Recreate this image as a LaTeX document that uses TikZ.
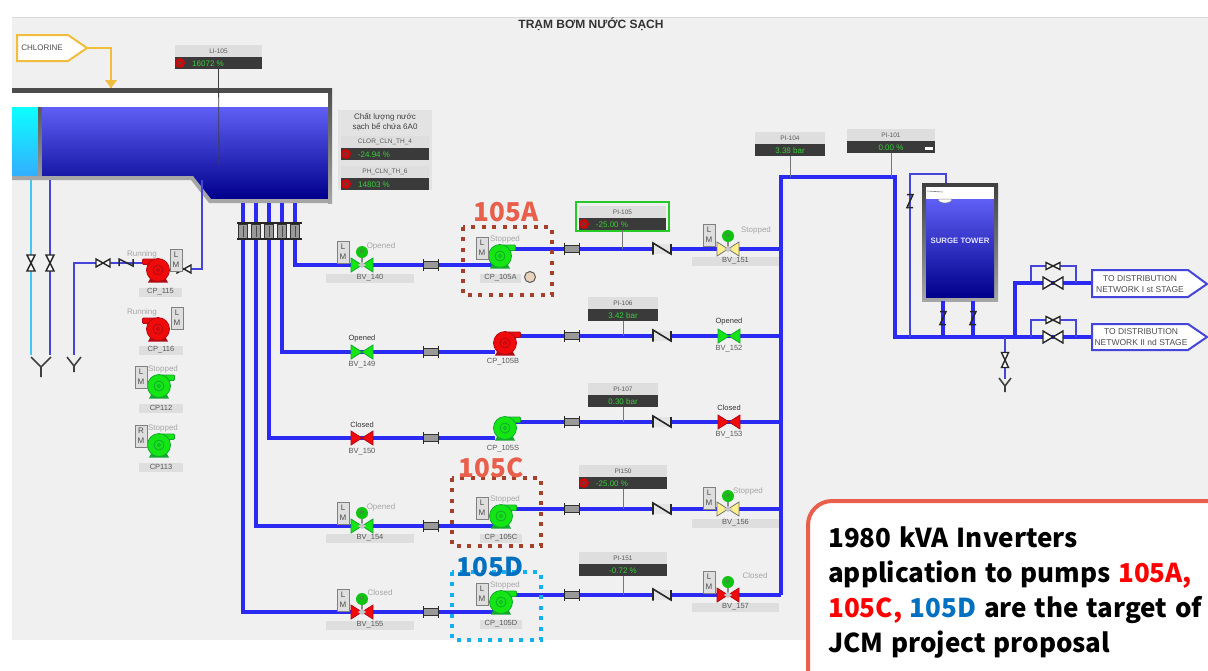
\documentclass[tikz,border=0pt]{standalone}
\usepackage{fontspec}
\setmainfont{Liberation Sans}
\newfontfamily\cjkf[WordSpace=1.3]{Noto Sans CJK JP}
\usetikzlibrary{calc}
\definecolor{bgc}{HTML}{F0F0F0}
\definecolor{pipec}{HTML}{2A2AF2}
\definecolor{thinc}{HTML}{4545DC}
\definecolor{lab}{HTML}{DEDEDE}
\definecolor{dk}{HTML}{3A3A3A}
\definecolor{vtxt}{HTML}{38D038}
\definecolor{gr}{HTML}{14E614}
\definecolor{grd}{HTML}{12A82E}
\definecolor{rd}{HTML}{F00A0A}
\definecolor{rdd}{HTML}{B00A14}
\definecolor{yl}{HTML}{FFF08C}
\definecolor{gold}{HTML}{F2BC3C}
\definecolor{brn}{HTML}{A5402D}
\definecolor{sal}{HTML}{E8604C}
\definecolor{cy}{HTML}{12B0F0}
\definecolor{blu}{HTML}{0070C0}
\definecolor{cyp}{HTML}{45C5F0}
\tikzset{
  pipe/.style={draw=pipec,line width=3.2pt},
  thin pipe/.style={draw=thinc,line width=2pt},
  tip/.style={draw=dk!70,line width=1pt},
  sm/.style={inner sep=0pt,font=\fontsize{7.5}{9}\selectfont,text=black!65},
  smgray/.style={inner sep=0pt,font=\fontsize{8}{9}\selectfont,text=black!35},
  val/.style={inner sep=0pt,font=\fontsize{8}{9}\selectfont,text=vtxt},
  dotbox/.style={line width=4pt,dash pattern=on 4pt off 6.4pt},
  tag/.style={inner sep=0pt,font=\cjkf\bfseries\fontsize{26}{28}\selectfont},
  call/.style={inner sep=0pt,anchor=base west,font=\cjkf\bfseries\fontsize{26}{30}\selectfont},
  dest/.style={draw=thinc,line width=2pt,fill=white},
  dtxt/.style={inner sep=0pt,align=center,font=\fontsize{8.5}{11}\selectfont,text=black!70},
  hollow/.style={draw=black!85,line width=1.4pt,fill=white}
}
% name x y colour dark dir
\newcommand\pump[6]{%
  \begin{scope}[shift={(#2,#3)},xscale=#6]
    \fill[#5] (-8,9) -- (8,9) -- (10,12.5) -- (-10,12.5) -- cycle;
    \filldraw[fill=#4,draw=#5,line width=.8pt,rounded corners=1pt] (2,-11) -- (15.5,-11) -- (15.5,-5.5) -- (9,-5.5) -- cycle;
    \filldraw[fill=#4,draw=#5,line width=.8pt] (0,0) circle (11.5);
    \draw[#5,line width=.8pt] (0,0) circle (5);
    \draw[#5,line width=.6pt] (0,0) circle (1.6);
  \end{scope}%
  \coordinate (#1) at (#2,#3);}
% name x1 y1 letter
\newcommand\lmbox[4]{%
  \filldraw[fill=lab,draw=black!50,line width=.7pt] (#2,#3) rectangle ({#2+12},{#3+22});
  \node[inner sep=0pt,font=\fontsize{8}{9}\selectfont,text=black!70] (#1l) at ({#2+6},{#3+6}) {#4};
  \node[inner sep=0pt,font=\fontsize{8}{9}\selectfont,text=black!70] (#1m) at ({#2+6},{#3+16}) {M};}
% name x1 x2 ycenter text
\newcommand\labbar[5]{%
  \fill[lab] (#2,{#4-4.5}) rectangle (#3,{#4+4.5});
  \node[sm] (#1) at ({(#2+#3)/2},#4) {#5};}
% name x y fill edge
\newcommand\bvalve[5]{%
  \filldraw[fill=#4,draw=#5,line width=.8pt] (#2,#3) -- ({#2-11},{#3-7}) -- ({#2-11},{#3+7}) -- cycle;
  \filldraw[fill=#4,draw=#5,line width=.8pt] (#2,#3) -- ({#2+11},{#3-7}) -- ({#2+11},{#3+7}) -- cycle;
  \coordinate (#1) at (#2,#3);}
% name x y (actuator)
\newcommand\actu[3]{%
  \draw[black!45,line width=1.2pt] (#2,#3) -- (#2,{#3-8});
  \fill[black!22] ({#2-4},#3) -- (#2,{#3-3}) -- ({#2+4},#3) -- (#2,{#3+3}) -- cycle;
  \fill[gr!85!black] (#2,{#3-13}) circle (6);
  \node[inner sep=0pt,font=\fontsize{5}{6}\selectfont,text=black!60] (#1a) at (#2,{#3-13}) {M};}
% name x1 x2 ytop label value red(1/0)
\newcommand\instr[7]{%
  \fill[lab] (#2,#4) rectangle (#3,{#4+11.5});
  \fill[dk] (#2,{#4+12}) rectangle (#3,{#4+24});
  \node[sm,font=\fontsize{6.5}{8}\selectfont] (#1t) at ({(#2+#3)/2},{#4+6}) {#5};
  \ifnum#7=1
    \fill[rd!85!black] ({#2+5},{#4+18}) circle (5);
    \draw[black!70,line width=.7pt] ({#2+3},{#4+16}) -- ({#2+7},{#4+20}) ({#2+3},{#4+20}) -- ({#2+7},{#4+16});
    \node[val] (#1v) at ({#2+33},{#4+18.5}) {#6};
  \else
    \node[val] (#1v) at ({(#2+#3)/2},{#4+18.5}) {#6};
  \fi
  \coordinate (#1b) at ({(#2+#3)/2},{#4+24});}
% name x y : coupling on horizontal pipe
\newcommand\coup[3]{%
  \fill[black!40] ({#2-8},{#3-3}) rectangle ({#2+8},{#3+3});
  \draw[black!80,line width=.9pt] ({#2-8},{#3-3.5}) -- ({#2+8},{#3-3.5}) ({#2-8},{#3+3.5}) -- ({#2+8},{#3+3.5});
  \draw[black!85,line width=1.8pt] ({#2-7.5},{#3-6}) -- ({#2-7.5},{#3+6}) ({#2+7.5},{#3-6}) -- ({#2+7.5},{#3+6});
  \coordinate (#1) at (#2,#3);}
% name x y : check valve on horizontal pipe
\newcommand\chk[3]{%
  \fill[black!10] ({#2-9},{#3-5}) rectangle ({#2+9},{#3+5});
  \draw[black!85,line width=1.6pt] ({#2-9},{#3+5.5}) -- ({#2-9},{#3-6}) -- ({#2+9},{#3+5}) -- ({#2+9},{#3-5});
  \coordinate (#1) at (#2,#3);}
% name x y : vertical check
\newcommand\vchk[3]{%
  \draw[black!85,line width=1.5pt] ({#2-3},{#3-6.5}) -- ({#2+3},{#3-6.5}) -- ({#2-3},{#3+6.5}) -- ({#2+3},{#3+6.5});
  \coordinate (#1) at (#2,#3);}
% name x y hw hh : hollow bow tie
\newcommand\hbow[5]{%
  \filldraw[hollow] (#2,#3) -- ({#2-#4},{#3-#5}) -- ({#2-#4},{#3+#5}) -- cycle;
  \filldraw[hollow] (#2,#3) -- ({#2+#4},{#3-#5}) -- ({#2+#4},{#3+#5}) -- cycle;
  \coordinate (#1) at (#2,#3);}
% name x y hw hh : hollow vertical hourglass
\newcommand\vbow[5]{%
  \filldraw[hollow] (#2,#3) -- ({#2-#4},{#3-#5}) -- ({#2+#4},{#3-#5}) -- cycle;
  \filldraw[hollow] (#2,#3) -- ({#2-#4},{#3+#5}) -- ({#2+#4},{#3+#5}) -- cycle;
  \coordinate (#1) at (#2,#3);}
% name x ytop hw depth stem
\newcommand\yfit[6]{%
  \coordinate (#1) at (#2,#3);
  \draw[black!75,line width=1.6pt] ({#2-#4},#3) -- (#2,{#3+#5}) -- ({#2+#4},#3) (#2,{#3+#5}) -- (#2,{#3+#5+#6});}
\begin{document}
\begin{tikzpicture}[x=1pt,y=-1pt]
\useasboundingbox (0,0) rectangle (1208,670);
\clip (0,0) rectangle (1208,670);
\fill[white] (0,0) rectangle (1208,670);
\fill[bgc] (12,17) rectangle (1208,640);
\draw[black!15,line width=1pt] (12,17) -- (1208,17);
\node[inner sep=0pt,font=\bfseries\fontsize{12}{14}\selectfont,text=black!80] (title) at (591,24) {TRẠM BƠM NƯỚC SẠCH};

% ---------- clean-water tank
\fill[white] (12,93) rectangle (328,107);
\shade[top color=cyan!95!white,bottom color=cyan!60!blue!80!white] (12,107) rectangle (38,176);
\shade[top color=black!65,bottom color=black!40] (38,107) rectangle (42,177);
\shade[top color=pipec!75!white,middle color=pipec!90!black,bottom color=blue!55!black] (42,107) -- (328,107) -- (328,199) -- (210,199) -- (191,176) -- (42,176) -- cycle;
\draw[black!35,line width=4pt] (12,178) -- (192,178) -- (210,201) -- (330,201);
\shade[top color=black!70,bottom color=black!35] (328,88) rectangle (332,203);
\fill[black!70] (12,87.5) rectangle (332,93);
\instr{li}{175}{262}{45}{LI-105}{16072 \%}{1}
\draw[black!75,line width=.8pt] (lib) ++(0,0) -- (219,165);

% chlorine
\filldraw[fill=white,draw=gold,line width=2pt] (17,35) -- (68,35) -- (87,48) -- (68,61) -- (17,61) -- cycle;
\node[inner sep=0pt,font=\fontsize{8}{9}\selectfont,text=black!70] (chl) at (42,48) {CHLORINE};
\coordinate (chlo) at (87,48); \coordinate (chlc) at (111,48); \coordinate (chld) at (111,88);
\draw[draw=gold,line width=2pt] (chlo) -- (chlc) -- (chld);
\fill[gold] (105,80) -- (117,80) -- (111,88) -- cycle;

% quality panel
\fill[black!11] (338,110) rectangle (432,190);
\node[inner sep=0pt,align=center,font=\fontsize{8}{10}\selectfont,text=black!75] (cl) at (385,122) {Chất lượng nước\\sạch bể chứa 6A0};
\instr{clo}{341}{429}{136}{CLOR\_CLN\_TH\_4}{-24.94 \%}{1}
\instr{ph}{341}{429}{166}{PH\_CLN\_TH\_6}{14803 \%}{1}

% ---------- left utility pipes
\coordinate (l1a) at (31,180); \coordinate (l1b) at (31,355);
\coordinate (l2a) at (50,180); \coordinate (l2b) at (50,355);
\draw[draw=cyp,line width=2pt] (l1a) -- (l1b);
\draw[thin pipe] (l2a) -- (l2b);
\vbow{vl1}{31}{263}{4}{8}
\vbow{vl2}{50}{263}{4}{8}
\yfit{y1}{41}{357}{10}{10}{10}
\yfit{y2}{74}{357}{7}{9}{6}
\coordinate (p1) at (74,355); \coordinate (p2) at (74,263); \coordinate (p3) at (145,263);
\draw[thin pipe] (p1) -- (p2) -- (p3);
\coordinate (p4) at (202,180); \coordinate (p5) at (202,269); \coordinate (p6) at (170,269);
\draw[thin pipe] (p4) -- (p5) -- (p6);
\hbow{vl3}{103}{263}{7}{4}
\draw[black!85,line width=1.5pt] (119,266) -- (119,259) -- (133,266) -- (133,259);
\coordinate (chk0) at (126,263);
\hbow{vl4}{184}{269}{7}{4}
\pump{cp115}{158}{270}{rd}{rdd}{-1}
\node[smgray] (run1) at (142,254) {Running};
\lmbox{lm1}{170}{249}{L}
\labbar{l115}{139}{182}{292}{CP\_115}
\pump{cp116}{158}{329}{rd}{rdd}{-1}
\node[smgray] (run2) at (142,312) {Running};
\lmbox{lm2}{171}{307}{L}
\labbar{l116}{139}{183}{350}{CP\_116}
\pump{cp112}{159}{386}{gr}{grd}{1}
\node[smgray] (st1) at (163,369) {Stopped};
\lmbox{lm3}{135}{366}{L}
\labbar{l112}{139}{183}{408}{CP112}
\pump{cp113}{159}{445}{gr}{grd}{1}
\node[smgray] (st2) at (163,428) {Stopped};
\lmbox{lm4}{135}{425}{R}
\labbar{l113}{139}{183}{467}{CP113}

% ---------- main pipes
\foreach \nm/\x/\y/\yy in {a/295/265/249,b/282/352/336,c/269/438/422,d/256/526/509,e/243/612/595}{
  \coordinate (\nm0) at (\x,203);
  \coordinate (\nm1) at (\x,\y);
  \coordinate (\nm2) at (495,\y);
  \coordinate (\nm3) at (505,\yy);
  \coordinate (\nm4) at (781,\yy);
  \draw[pipe] (\nm0) -- (\nm1) -- (\nm2);
  \draw[pipe] (\nm3) -- (\nm4);
}
\coordinate (c0t) at (781,595); \coordinate (c1t) at (781,177); \coordinate (c2t) at (895,177);
\coordinate (c3t) at (895,337); \coordinate (c4t) at (1092,337);
\draw[pipe,line join=miter] (c0t) -- (c1t) -- (c2t) -- (c3t) -- (c4t);

% manifold
\foreach \x in {243,256,269,282,295}{
  \filldraw[fill=black!40,draw=black!80,line width=.8pt] ({\x-4.5},224) rectangle ({\x+4.5},239);
  \draw[black!70,line width=.5pt] (\x,226) -- (\x,237);
}
\draw[black!85,line width=1.5pt] (237,223) -- (302,223) (237,239) -- (302,239);

% inlet couplings, outlet couplings, check valves
\foreach \y/\n in {265/a,352/b,438/c,526/d,612/e}{\coup{ci\n}{431}{\y}}
\foreach \y/\n in {249/a,336/b,422/c,509/d,595/e}{
  \coup{co\n}{572}{\y}
  \chk{ch\n}{662}{\y}
}

% inlet valves
\bvalve{bv140}{362}{265}{gr}{grd}
\actu{bv140}{362}{265}
\lmbox{lm140}{337}{241}{L}
\node[smgray] (s140) at (381,246) {Opened};
\labbar{l140}{326}{414}{278}{BV\_140}
\bvalve{bv149}{362}{352}{gr}{grd}
\node[sm,text=black!80] (s149) at (362,339) {Opened};
\node[sm] (l149) at (362,365) {BV\_149};
\bvalve{bv150}{362}{438}{rd}{rdd}
\node[sm,text=black!80] (s150) at (362,425) {Closed};
\node[sm] (l150) at (362,452) {BV\_150};
\bvalve{bv154}{362}{526}{gr}{grd}
\actu{bv154}{362}{526}
\lmbox{lm154}{337}{502}{L}
\node[smgray] (s154) at (381,507) {Opened};
\labbar{l154}{326}{414}{538}{BV\_154}
\bvalve{bv155}{362}{612}{rd}{rdd}
\actu{bv155}{362}{612}
\lmbox{lm155}{337}{589}{L}
\node[smgray] (s155) at (380,593) {Closed};
\labbar{l155}{326}{414}{625}{BV\_155}

% outlet valves
\bvalve{bv151}{728}{249}{yl}{black!55}
\actu{bv151}{728}{249}
\lmbox{lm151}{703}{224}{L}
\node[smgray] (s151) at (756,230) {Stopped};
\labbar{l151}{692}{779}{261}{BV\_151}
\bvalve{bv152}{729}{336}{gr}{grd}
\node[sm,text=black!80] (s152) at (729,322) {Opened};
\node[sm] (l152) at (729,349) {BV\_152};
\bvalve{bv153}{729}{422}{rd}{rdd}
\node[sm,text=black!80] (s153) at (729,408) {Closed};
\node[sm] (l153) at (729,435) {BV\_153};
\bvalve{bv156}{728}{509}{yl}{black!55}
\actu{bv156}{728}{509}
\lmbox{lm156}{703}{487}{L}
\node[smgray] (s156) at (748,491) {Stopped};
\labbar{l156}{692}{779}{523}{BV\_156}
\bvalve{bv157}{728}{595}{rd}{rdd}
\actu{bv157}{728}{595}
\lmbox{lm157}{703}{571}{L}
\node[smgray] (s157) at (755,576) {Closed};
\labbar{l157}{692}{779}{607}{BV\_157}

% pumps 105
\pump{cpa}{500}{256}{gr}{grd}{1}
\lmbox{lma}{476}{237}{L}
\node[smgray] (sa) at (505,239) {Stopped};
\labbar{la}{480}{521}{278}{CP\_105A}
\filldraw[fill=brown!35!white,draw=black!65,line width=1pt] (530,277) circle (5.5);
\pump{cpb}{505}{343}{rd}{rdd}{1}
\node[sm] (lb) at (503,362) {CP\_105B};
\pump{cps}{505}{428}{gr}{grd}{1}
\node[sm] (ls) at (503,449) {CP\_105S};
\pump{cpc}{501}{516}{gr}{grd}{1}
\lmbox{lmc}{476}{497}{L}
\node[smgray] (sc) at (505,499) {Stopped};
\labbar{lc}{480}{522}{538}{CP\_105C}
\pump{cpd}{501}{602}{gr}{grd}{1}
\lmbox{lmd}{476}{583}{L}
\node[smgray] (sd) at (505,585) {Stopped};
\labbar{ld}{480}{522}{624}{CP\_105D}

% instruments
\coordinate (pi5c) at (622,249); \coordinate (pi6c) at (622,336); \coordinate (pi7c) at (622,422);
\coordinate (pi0c) at (622,509); \coordinate (pi1c) at (622,595); \coordinate (pi4c) at (791,177); \coordinate (pi2c) at (889,177);
\filldraw[fill=bgc,draw=green!75!black!85!white,line width=2pt] (576,202) rectangle (669,231);
\instr{pia}{579}{666}{206}{PI-105}{-25.00 \%}{1}
\instr{pib}{588}{658}{297}{PI-106}{3.42 bar}{0}
\instr{pic}{588}{658}{383}{PI-107}{0.30 bar}{0}
\instr{pid}{579}{667}{465}{PI150}{-25.00 \%}{1}
\instr{pie}{579}{667}{552}{PI-151}{-0.72 \%}{0}
\instr{pif}{755}{825}{132}{PI-104}{3.38 bar}{0}
\instr{pig}{847}{935}{129}{PI-101}{0.00 \%}{0}
\fill[white] (925,146.5) rectangle (933,149.5);
\foreach \nm/\tg in {piab/pi5c,pibb/pi6c,picb/pi7c,pidb/pi0c,pieb/pi1c,pifb/pi4c,pigb/pi2c}{\draw[tip] (\nm) -- (\nm |- \tg);}

% ---------- surge tower
\coordinate (s1) at (910,337); \coordinate (s2) at (910,174); \coordinate (s3) at (946,174); \coordinate (s4) at (946,184);
\draw[thin pipe] (s1) -- (s2) -- (s3) -- (s4);
\vchk{sc0}{910}{201}
\shade[top color=black!75,bottom color=black!35] (922,183) rectangle (998,301);
\fill[white] (926,187) rectangle (994,199);
\shade[top color=pipec!75!white,middle color=pipec!90!black,bottom color=blue!55!black] (926,199) rectangle (994,297);
\draw[black!50,line width=.6pt] (927,191) -- (943,192);
\filldraw[fill=white,draw=black!50,line width=.5pt] (938,199) arc (180:0:7 and 4) -- cycle;
\node[inner sep=0pt,font=\bfseries\fontsize{7.8}{9}\selectfont,text=blue!10!white] (st) at (960,241) {SURGE TOWER};
\coordinate (o1) at (943,301); \coordinate (o1b) at (943,337); \coordinate (o2) at (973,301); \coordinate (o2b) at (973,337);
\draw[pipe] (o1) -- (o1b); \draw[pipe] (o2) -- (o2b);
\vchk{sc1}{943}{318} \vchk{sc2}{973}{318}

% outlets
\coordinate (b1) at (1015,337); \coordinate (b2) at (1015,283); \coordinate (b3) at (1092,283);
\draw[pipe] (b1) -- (b2) -- (b3);
\foreach \y/\n in {283/u,337/w}{
  \coordinate (\n1) at (1031,\y); \coordinate (\n2) at (1031,{\y-17}); \coordinate (\n3) at (1076,{\y-17}); \coordinate (\n4) at (1076,\y);
  \draw[thin pipe] (\n1) -- (\n2) -- (\n3) -- (\n4);
  \hbow{\n v1}{1053}{\y}{10}{6}
  \hbow{\n v2}{1053}{\y-17}{7}{3.5}
}
\filldraw[dest] (1092,270) -- (1188,270) -- (1207,284) -- (1188,297) -- (1092,297) -- cycle;
\node[dtxt] (d1) at (1140,284) {TO DISTRIBUTION\\NETWORK I st STAGE};
\filldraw[dest] (1092,324) -- (1188,324) -- (1207,337) -- (1188,350) -- (1092,350) -- cycle;
\node[dtxt] (d2) at (1141,337) {TO DISTRIBUTION\\NETWORK II nd STAGE};
\coordinate (dr1) at (1005,337); \coordinate (dr2) at (1005,379);
\draw[thin pipe] (dr1) -- (dr2);
\vbow{dv}{1005}{360}{3.5}{7.5}
\yfit{y3}{1005}{378}{6}{8}{6}

% ---------- highlight boxes
\draw[brn,dotbox] (463,227) rectangle (552,295);
\node[tag,text=sal] (t105a) at (506,212) {105A};
\draw[brn,dotbox] (452,478) rectangle (541,546);
\node[tag,text=sal] (t105c) at (491,468) {105C};
\draw[cy,dotbox] (452,572) rectangle (541,640);
\node[tag,text=blu] (t105d) at (490,567) {105D};

% ---------- callout
\filldraw[fill=white,draw=sal,line width=4pt,rounded corners=24pt] (808,720) rectangle (1270,501);
\node[call] (n1) at (828,547) {1980 kVA Inverters};
\node[call] (n2) at (828,582) {application to pumps \textcolor{red}{105A,}};
\node[call] (n3) at (828,617) {\textcolor{red}{105C,} \textcolor{blu}{105D} are the target of};
\node[call] (n4) at (828,652) {JCM project proposal};
\end{tikzpicture}
\end{document}
